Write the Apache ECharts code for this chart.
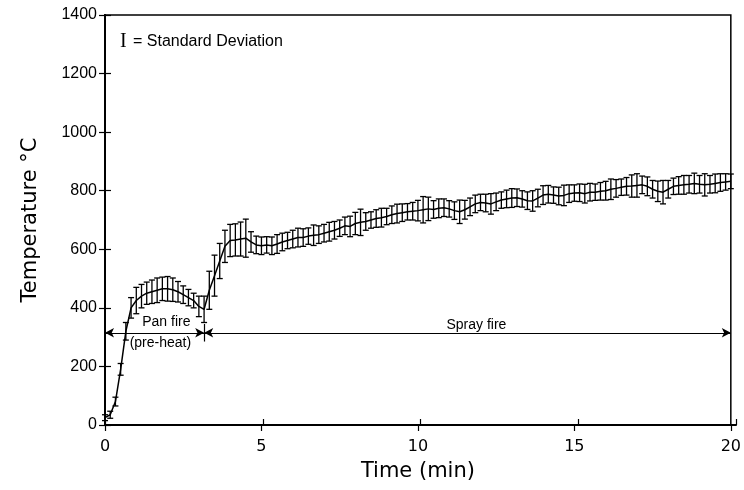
<!DOCTYPE html>
<html lang="en">
<head>
    <meta charset="UTF-8">
    <title>Temperature vs Time</title>
    <script src="https://cdn.jsdelivr.net/npm/echarts/dist/echarts.min.js"></script>
    <style>
        body { margin: 0; background: #fff; }
        #chart { width: 744px; height: 490px; }
    </style>
</head>
<body>
<div id="chart"></div>
<script>
// readings every 10 s (0 .. 20 min)
var stepMin = 10 / 60;

var meanTemp = [
    25, 35, 80, 190, 320, 400, 425, 440, 450, 455,
    460, 465, 465, 462, 455, 445, 435, 425, 405, 395,
    460, 510, 560, 610, 630, 632, 635, 638, 625, 615,
    612, 615, 612, 618, 625, 630, 635, 640, 640, 645,
    648, 650, 655, 660, 665, 672, 680, 678, 688, 692,
    695, 700, 705, 708, 712, 718, 722, 725, 728, 730,
    732, 735, 738, 736, 740, 742, 738, 732, 728, 735,
    745, 755, 760, 758, 755, 762, 768, 772, 775, 776,
    772, 766, 765, 775, 785, 788, 785, 782, 784, 790,
    792, 793, 790, 795, 795, 798, 800, 805, 808, 812,
    815, 816, 818, 820, 815, 805, 798, 795, 805, 815,
    818, 820, 822, 825, 822, 820, 822, 825, 828, 830,
    832
];

var sdTemp = [
    10, 12, 15, 20, 30, 35, 45, 40, 38, 40,
    42, 40, 42, 40, 35, 30, 28, 25, 35, 45,
    65, 70, 60, 55, 55, 55, 58, 65, 35, 30,
    30, 28, 30, 32, 30, 28, 30, 32, 30, 28,
    35, 30, 30, 32, 30, 28, 30, 35, 38, 45,
    30, 28, 30, 32, 28, 30, 32, 30, 28, 30,
    35, 45, 40, 30, 32, 30, 28, 30, 40, 32,
    30, 30, 28, 30, 35, 30, 28, 30, 32, 30,
    28, 30, 35, 30, 32, 30, 28, 30, 35, 30,
    28, 30, 32, 30, 28, 30, 32, 35, 30, 28,
    30, 38, 40, 30, 32, 30, 35, 40, 30, 28,
    30, 32, 30, 35, 30, 38, 30, 32, 30, 28,
    25
];

var xTicks = [0, 5, 10, 15, 20];
var phaseSplit = 3.17;
var phaseLevel = 315;

var lineData = meanTemp.map(function (v, i) { return [i * stepMin, v]; });
var barData = meanTemp.map(function (v, i) { return [i * stepMin, v - sdTemp[i], v + sdTemp[i]]; });

var chart = echarts.init(document.getElementById('chart'));

function renderErrorBar(params, api) {
    var x = api.value(0);
    var lo = api.coord([x, api.value(1)]);
    var hi = api.coord([x, api.value(2)]);
    var hw = 3;
    var st = { stroke: '#000', lineWidth: 1.3 };
    return {
        type: 'group',
        children: [
            { type: 'line', shape: { x1: lo[0], y1: lo[1], x2: hi[0], y2: hi[1] }, style: st },
            { type: 'line', shape: { x1: lo[0] - hw, y1: lo[1], x2: lo[0] + hw, y2: lo[1] }, style: st },
            { type: 'line', shape: { x1: hi[0] - hw, y1: hi[1], x2: hi[0] + hw, y2: hi[1] }, style: st }
        ]
    };
}

var labelFont = "'Liberation Sans', Arial, sans-serif";
var nameFont = "'DejaVu Sans', sans-serif";
var gridBox = { left: 105, right: 8, top: 15, bottom: 65 };

// second grid on top of the first one carries the inward half of each tick
var innerTick = { inside: true, length: 6, lineStyle: { color: '#000', width: 1.2 } };

chart.setOption({
    animation: false,
    grid: [
        Object.assign({ show: true, borderColor: '#000', borderWidth: 1.5 }, gridBox),
        Object.assign({ show: false }, gridBox)
    ],
    xAxis: [{
        type: 'value', min: 0, max: 20, interval: 5,
        name: 'Time (min)', nameLocation: 'middle', nameGap: 36,
        nameTextStyle: { color: '#000', fontSize: 21, fontFamily: nameFont },
        axisLine: { lineStyle: { color: '#000', width: 2 } },
        axisTick: { length: 6, lineStyle: { color: '#000', width: 1.2 } },
        axisLabel: {
            color: '#000', fontSize: 16, margin: 14, fontFamily: nameFont,
            formatter: function (v) { return xTicks.indexOf(v) >= 0 ? String(v) : ''; }
        },
        splitLine: { show: false }
    }, {
        gridIndex: 1, type: 'value', min: 0, max: 20, interval: 5,
        axisLine: { show: true, lineStyle: { color: '#000', width: 2 } },
        axisTick: innerTick,
        axisLabel: { show: false },
        splitLine: { show: false }
    }],
    yAxis: [{
        type: 'value', min: 0, max: 1400, interval: 200,
        name: 'Temperature \u00B0C', nameLocation: 'middle', nameGap: 64,
        nameTextStyle: { color: '#000', fontSize: 21, fontFamily: nameFont },
        axisLine: { lineStyle: { color: '#000', width: 2 } },
        axisTick: { length: 6, lineStyle: { color: '#000', width: 1.2 } },
        axisLabel: {
            color: '#000', fontSize: 16, margin: 8, fontFamily: labelFont,
            formatter: function (v) { return String(v); }
        },
        splitLine: { show: false }
    }, {
        gridIndex: 1, type: 'value', min: 0, max: 1400, interval: 200,
        axisLine: { show: true, lineStyle: { color: '#000', width: 2 } },
        axisTick: innerTick,
        axisLabel: { show: false },
        splitLine: { show: false }
    }],
    graphic: [
        {
            type: 'text', left: 120, top: 32,
            style: { text: 'I', font: "20px 'Liberation Serif', 'DejaVu Serif', serif", fill: '#000' }
        },
        {
            type: 'text', left: 133, top: 34,
            style: { text: '= Standard Deviation', font: "16px " + labelFont, fill: '#000' }
        }
    ],
    series: [
        {
            type: 'custom',
            renderItem: renderErrorBar,
            encode: { x: 0, y: [1, 2] },
            data: barData,
            z: 3
        },
        {
            type: 'line',
            data: lineData,
            showSymbol: false,
            lineStyle: { color: '#000', width: 1.5 },
            itemStyle: { color: '#000' },
            z: 4,
            markLine: {
                silent: true,
                symbol: ['arrow', 'arrow'],
                symbolSize: [7, 9],
                label: { show: false },
                lineStyle: { color: '#000', width: 1.2, type: 'solid' },
                data: [
                    [{ coord: [0, phaseLevel] }, { coord: [phaseSplit, phaseLevel] }],
                    [{ coord: [phaseSplit, phaseLevel] }, { coord: [20, phaseLevel] }],
                    [{ coord: [phaseSplit, phaseLevel - 30], symbol: 'none' },
                     { coord: [phaseSplit, phaseLevel + 30], symbol: 'none' }]
                ]
            },
            markPoint: {
                silent: true,
                symbol: 'rect',
                symbolSize: 0,
                label: { show: true, color: '#000', fontSize: 14, fontFamily: labelFont },
                data: [
                    { coord: [1.96, phaseLevel], label: { formatter: 'Pan fire', offset: [0, -11] } },
                    { coord: [1.77, phaseLevel], label: { formatter: '(pre-heat)', offset: [0, 10] } },
                    { coord: [11.87, phaseLevel], label: { formatter: 'Spray fire', offset: [0, -8] } }
                ]
            }
        },
        {
            // empty series so the tick grid is laid out
            type: 'line', xAxisIndex: 1, yAxisIndex: 1, data: [], silent: true
        }
    ]
});
</script>
</body>
</html>
